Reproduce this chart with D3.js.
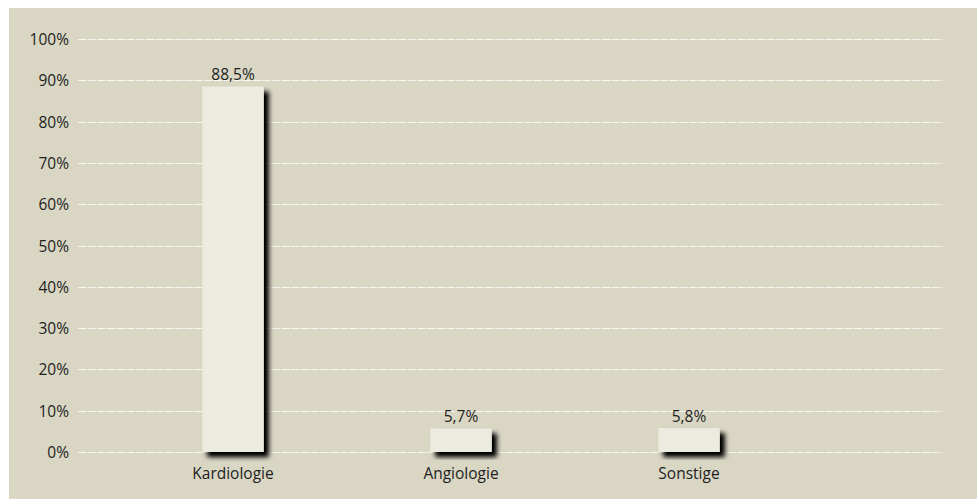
<!DOCTYPE html>
<html><head><meta charset="utf-8">
<script src="https://cdn.jsdelivr.net/npm/d3@7"></script>
<style>body{margin:0;background:#fff;}svg{display:block;}</style>
</head><body>
<script>
const categories = ["Kardiologie", "Angiologie", "Sonstige"];
const values = [88.5, 5.7, 5.8];
const valueLabels = ["88,5%", "5,7%", "5,8%"];
const yTicks = [0, 10, 20, 30, 40, 50, 60, 70, 80, 90, 100];

const W = 979, H = 499;
const svg = d3.select("body").append("svg").attr("width", W).attr("height", H);
const defs = svg.append("defs");
const f = defs.append("filter").attr("id", "sh").attr("x", "-20%").attr("y", "-20%").attr("width", "150%").attr("height", "150%");
f.append("feGaussianBlur").attr("in", "SourceAlpha").attr("stdDeviation", 2.5).attr("result", "b");
f.append("feOffset").attr("in", "b").attr("dx", 4.5).attr("dy", 4.5).attr("result", "o");
f.append("feComponentTransfer").attr("in", "o").attr("result", "o2")
  .append("feFuncA").attr("type", "linear").attr("slope", 1.05);
const m = f.append("feMerge");
m.append("feMergeNode").attr("in", "o2");
m.append("feMergeNode").attr("in", "SourceGraphic");

svg.append("rect").attr("x", 9).attr("y", 8).attr("width", 968).attr("height", H - 8).attr("fill", "#d9d6c4");

const y = d3.scaleLinear().domain([0, 100]).range([452, 39]);
const x = d3.scaleBand().domain(categories).range([119, 803]).paddingInner(0.73).paddingOuter(0.365);

const font = "'Open Sans', sans-serif";
const fs = 15.5;

const grid = svg.append("g");
grid.selectAll("line").data(yTicks).join("line")
  .attr("x1", 78).attr("x2", 943)
  .attr("y1", d => Math.round(y(d)) + 0.5).attr("y2", d => Math.round(y(d)) + 0.5)
  .attr("stroke", "#f6f5ee").attr("stroke-width", 1.2)
  .attr("stroke-dasharray", "8.3,1.4");

const yAxis = svg.append("g").attr("transform", "translate(69,0)")
  .call(d3.axisLeft(y).tickValues(yTicks).tickSize(0).tickPadding(0).tickFormat(d => d + "%"));
yAxis.select(".domain").remove();
yAxis.selectAll("text").attr("font-family", font).attr("font-size", fs).attr("fill", "#1e1e1e").attr("dy", "0.36em");

svg.append("g").selectAll("rect").data(values).join("rect")
  .attr("x", (d, i) => x(categories[i]))
  .attr("width", x.bandwidth())
  .attr("y", d => y(d))
  .attr("height", d => y(0) - y(d))
  .attr("fill", "#ecebe0")
  .attr("filter", "url(#sh)");

svg.append("g").selectAll("text").data(values).join("text")
  .attr("x", (d, i) => x(categories[i]) + x.bandwidth() / 2)
  .attr("y", d => y(d) - 6)
  .attr("text-anchor", "middle")
  .attr("font-family", font).attr("font-size", fs).attr("fill", "#1e1e1e")
  .text((d, i) => valueLabels[i]);

const xAxis = svg.append("g").attr("transform", "translate(0,452)")
  .call(d3.axisBottom(x).tickSize(0).tickPadding(16));
xAxis.select(".domain").remove();
xAxis.selectAll("text").attr("font-family", font).attr("font-size", fs).attr("fill", "#1e1e1e");
</script>
</body></html>
